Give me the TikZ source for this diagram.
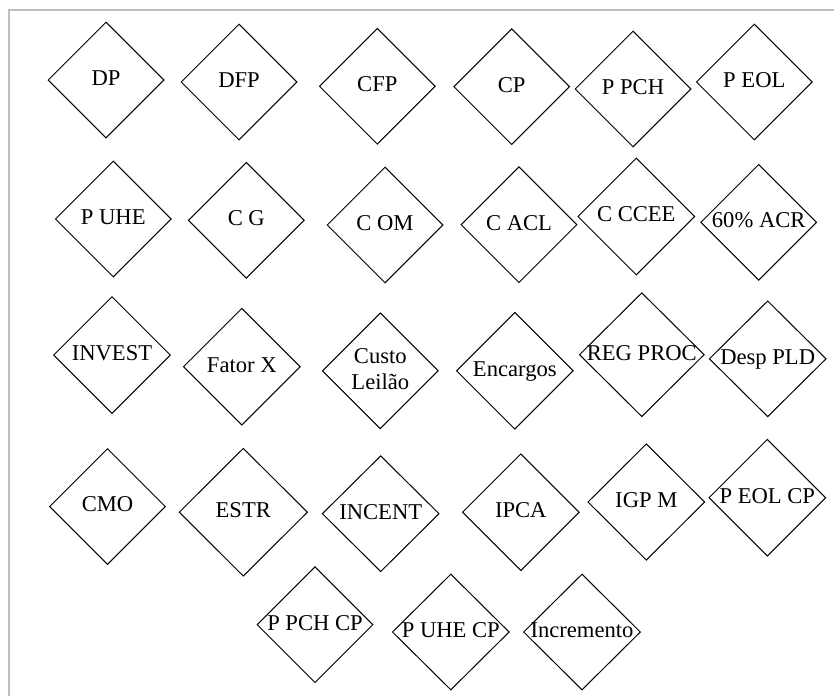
\documentclass[tikz,border=0pt]{standalone}
\usepackage{fontspec}
\setmainfont{Liberation Serif}
\usetikzlibrary{shapes.geometric}
\newcommand\dtxt[1]{\makebox[0pt]{\begin{tabular}{@{}c@{}}#1\end{tabular}}}
\tikzset{
  dia/.style={diamond, draw=black, line width=1pt, inner sep=0pt, aspect=1,
    minimum width=116pt, minimum height=116pt,
    font=\fontsize{22.6}{27}\selectfont},
  frameline/.style={draw=black!25, line width=2pt}
}
\begin{document}
\begin{tikzpicture}[x=1pt,y=-1pt]
\useasboundingbox (0,0) rectangle (834,696);
\draw[frameline] (9.3,696) -- (9.3,10) -- (834,10);
% row 1
\node[dia] (dp)   at (106,80)    {\dtxt{DP}};
\node[dia] (dfp)  at (239,82)    {\dtxt{DFP}};
\node[dia] (cfp)  at (377.3,86.3) {\dtxt{CFP}};
\node[dia] (cp)   at (511.7,86.7) {\dtxt{CP}};
\node[dia] (ppch) at (633,89)    {\dtxt{P PCH}};
\node[dia] (peol) at (754.3,82)  {\dtxt{P EOL}};
% row 2
\node[dia] (puhe) at (113.3,219) {\dtxt{P UHE}};
\node[dia] (cg)   at (246.3,220.3) {\dtxt{C G}};
\node[dia] (com)  at (385,225)   {\dtxt{C OM}};
\node[dia] (cacl) at (519,224.7) {\dtxt{C ACL}};
\node[dia, minimum width=117pt, minimum height=117pt] (cccee) at (636.3,216.5) {\dtxt{C CCEE}};
\node[dia] (acr)  at (758.7,222.3) {\dtxt{60\% ACR}};
% row 3
\node[dia, minimum width=117pt, minimum height=117pt] (invest) at (112,355) {\dtxt{INVEST}};
\node[dia, minimum width=117pt, minimum height=117pt] (fatorx) at (241.8,366.7) {\dtxt{Fator X}};
\node[dia] (custo) at (380.3,370.8) {\dtxt{Custo\\[-1pt]Leilão}};
\node[dia, minimum width=117pt, minimum height=117pt] (encargos) at (514.8,370.8) {\dtxt{Encargos}};
\node[dia, minimum width=125pt, minimum height=124pt] (regproc) at (641.8,354.7) {\dtxt{REG PROC}};
\node[dia, minimum width=117pt, minimum height=116pt] (desppld) at (767.7,358.8) {\dtxt{Desp PLD}};
% row 4
\node[dia] (cmo)    at (107.5,506.5) {\dtxt{CMO}};
\node[dia, minimum width=128.5pt, minimum height=128pt] (estr) at (243.3,512.2) {\dtxt{ESTR}};
\node[dia, minimum width=117pt, minimum height=116pt] (incent) at (380.7,513.7) {\dtxt{INCENT}};
\node[dia, minimum width=117pt, minimum height=117pt] (ipca) at (520.8,512.2) {\dtxt{IPCA}};
\node[dia, minimum width=117pt, minimum height=116.5pt] (igpm) at (646.3,502) {\dtxt{IGP M}};
\node[dia, minimum width=117pt, minimum height=117pt] (peolcp) at (767.3,497.7) {\dtxt{P EOL CP}};
% row 5
\node[dia] (ppchcp) at (315,624.7) {\dtxt{P PCH CP}};
\node[dia, minimum width=117pt, minimum height=116pt] (puhecp) at (450.8,632) {\dtxt{P UHE CP}};
\node[dia, minimum width=117pt, minimum height=116pt] (incr) at (582,632) {\dtxt{Incremento}};
\end{tikzpicture}
\end{document}
